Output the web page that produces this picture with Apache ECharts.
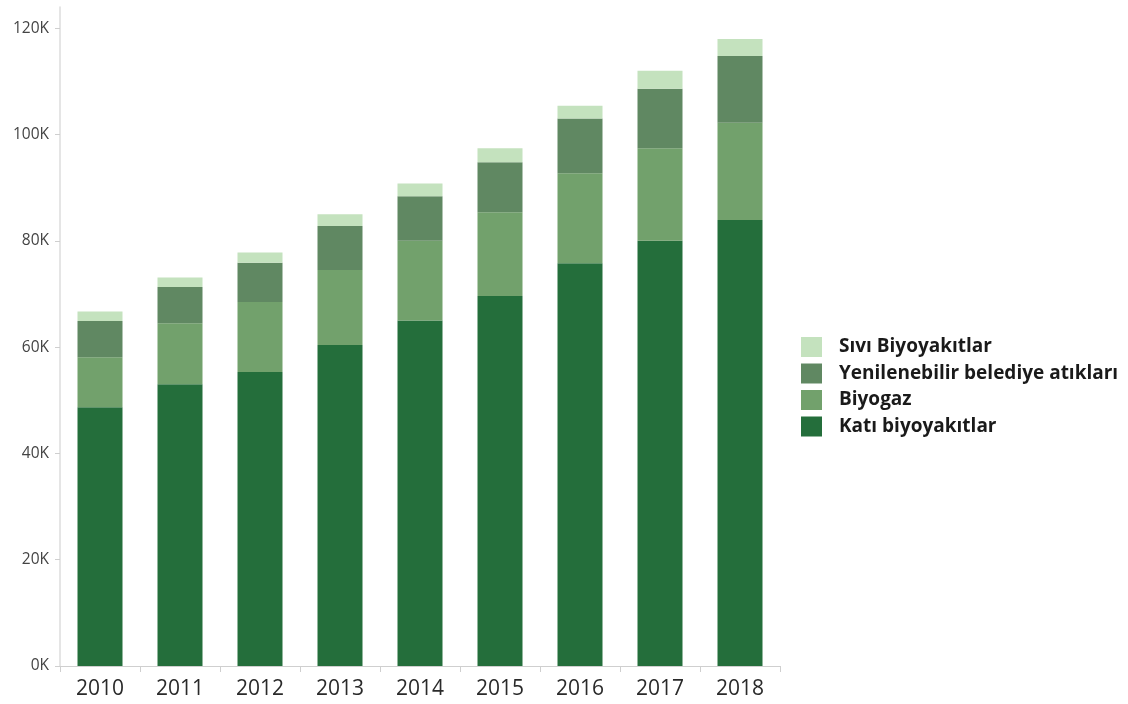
<!DOCTYPE html>
<html>
<head>
<meta charset="utf-8">
<script src="https://cdn.jsdelivr.net/npm/echarts@6/dist/echarts.min.js"></script>
<style>html,body{margin:0;padding:0;background:#fff;}#c{width:1128px;height:704px;}</style>
</head>
<body>
<div id="c"></div>
<script>
const years = ['2010','2011','2012','2013','2014','2015','2016','2017','2018'];
const kati = [48700, 53000, 55300, 60400, 65000, 69600, 75800, 80000, 83900];
const biyogaz = [9400, 11500, 13200, 14100, 15000, 15800, 16900, 17400, 18300];
const belediye = [6800, 6800, 7400, 8300, 8400, 9400, 10300, 11200, 12600];
const sivi = [1800, 1800, 1900, 2200, 2400, 2600, 2400, 3400, 3200];
const yTicks = [0, 20000, 40000, 60000, 80000, 100000, 120000];

const names = {
  kati: 'Katı biyoyakıtlar',
  biyogaz: 'Biyogaz',
  belediye: 'Yenilenebilir belediye atıkları',
  sivi: 'Sıvı Biyoyakıtlar'
};
const colors = {kati:'#246e3b', biyogaz:'#72a16c', belediye:'#608862', sivi:'#c4e2be'};

const chart = echarts.init(document.getElementById('c'), null, {renderer:'canvas'});
function s(key, data){
  return {name:names[key], type:'bar', stack:'t', data:data, barWidth:45,
    itemStyle:{color:colors[key]}, emphasis:{disabled:true}};
}
chart.setOption({
  animation:false,
  textStyle:{fontFamily:'Open Sans'},
  legend:{
    orient:'vertical', left:796, top:332,
    itemWidth:21, itemHeight:20, itemGap:6.5,
    icon:'rect',
    data:[names.sivi, names.belediye, names.biyogaz, names.kati],
    textStyle:{fontFamily:'Open Sans', fontWeight:'bold', fontSize:19, color:'#1a1a1a', lineHeight:20, padding:[0,0,0,12]}
  },
  grid:{left:60, top:7, width:720, bottom:38, containLabel:false},
  xAxis:{
    type:'category', data:years,
    axisLine:{lineStyle:{color:'#cfcfcf'}},
    axisTick:{show:true, length:6, lineStyle:{color:'#cfcfcf'}},
    axisLabel:{fontSize:21, color:'#2a2a2a', margin:13, fontFamily:'Open Sans'}
  },
  yAxis:{
    type:'value', min:0, max:124000,
    splitLine:{show:false},
    axisLine:{show:true, lineStyle:{color:'#dcdcdc', width:1.5}},
    axisTick:{show:true, length:5, lineStyle:{color:'#cfcfcf'}, customValues:yTicks},
    axisLabel:{fontSize:15.5, color:'#444', margin:11, customValues:yTicks,
      formatter:function(v){return (v/1000)+'K';}}
  },
  series:[s('kati',kati), s('biyogaz',biyogaz), s('belediye',belediye), s('sivi',sivi)]
});
</script>
</body>
</html>
